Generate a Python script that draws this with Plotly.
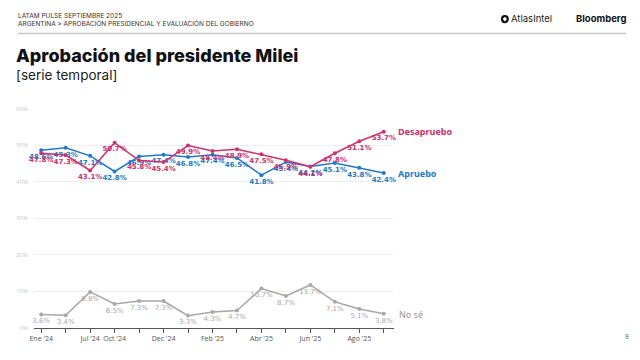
import plotly.graph_objects as go

categories = ["Ene '24", "Mar '24", "Jul '24", "Oct '24", "Nov '24", "Dec '24", "Ene '25",
              "Feb '25", "Mar '25", "Abr '25", "May '25", "Jun '25", "Jul '25", "Ago '25", "Sep '25"]
tick_labels = ["Ene '24", "", "Jul '24", "Oct '24", "", "Dec '24", "", "Feb '25", "",
               "Abr '25", "", "Jun '25", "", "Ago '25", ""]
apruebo = [48.6, 49.3, 47.1, 42.8, 46.9, 47.4, 46.8, 47.4, 46.5, 41.8, 45.4, 44.2, 45.1, 43.8, 42.4]
desapruebo = [47.8, 47.3, 43.1, 50.7, 45.8, 45.4, 49.9, 48.4, 48.9, 47.5, 45.9, 44.1, 47.8, 51.1, 53.7]
no_se = [3.6, 3.4, 9.8, 6.5, 7.3, 7.3, 3.3, 4.3, 4.7, 10.7, 8.7, 11.7, 7.1, 5.1, 3.8]
y_ticks = [0, 10, 20, 30, 40, 50, 60]

BLUE = "#2279cc"
RED = "#d0306a"
GRAY = "#a8a8a8"
OFF = 8  # page body margin
W, H = 640 - OFF, 360 - OFF

def px(x):
    return (x - OFF) / W

def py(y):
    return 1 - (y - OFF) / H

fig = go.Figure()

def add_series(vals, color, bold=True):
    fig.add_trace(go.Scatter(
        x=categories, y=vals, mode="lines+markers+text",
        line=dict(color=color, width=1.5),
        marker=dict(color=color, size=4),
        text=[f"{v:.1f}%" for v in vals],
        textposition="bottom center",
        textfont=dict(family="DejaVu Sans", size=7, color=color,
                      weight="bold" if bold else "normal"),
        cliponaxis=False, showlegend=False, hoverinfo="skip"))

add_series(apruebo, BLUE)
add_series(desapruebo, RED)
add_series(no_se, GRAY, bold=False)

fig.update_layout(
    width=W, height=H, margin=dict(l=0, r=0, t=0, b=0),
    paper_bgcolor="white", plot_bgcolor="white",
    xaxis=dict(domain=[px(30), px(392)], type="category", range=[-0.3, 14.4],
               tickmode="array", tickvals=categories, ticktext=tick_labels,
               showgrid=False, showline=True, linecolor="#555", linewidth=1,
               ticks="outside", ticklen=4, tickcolor="#555",
               tickfont=dict(family="Open Sans", size=7, color="#555"), zeroline=False),
    yaxis=dict(domain=[py(331), py(107)], range=[0, 60], tickmode="array",
               tickvals=y_ticks, ticktext=[f"{t}%" for t in y_ticks],
               showgrid=True, gridcolor="#eeeeee", gridwidth=1, zeroline=False,
               ticklabelstandoff=5,
               tickfont=dict(family="Open Sans", size=6, color="#c8c8c8"), ticks=""),
)

ann = []
def text(x, y, s, size, color, family="Open Sans", weight="normal", xanchor="left"):
    ann.append(dict(xref="paper", yref="paper", x=px(x), y=py(y), text=s, showarrow=False,
                    xanchor=xanchor, yanchor="middle",
                    font=dict(family=family, size=size, color=color, weight=weight)))

text(12, 12, "LATAM PULSE SEPTIEMBRE 2025", 6.5, "#333", family="Inter")
text(12, 20, "ARGENTINA &gt; APROBACIÓN PRESIDENCIAL Y EVALUACIÓN DEL GOBIERNO", 6.5, "#333", family="Inter")
text(10, 52, "Aprobación del presidente Milei", 18, "#111", family="Inter", weight=800)
text(10, 72, "[serie temporal]", 13.5, "#222", family="Inter")
text(508, 15, "AtlasIntel", 9.5, "#222", family="Inter")
text(574, 15, "Bloomberg", 9.5, "#111", family="Inter", weight="bold")
text(394, 130, "Desapruebo", 9, RED, family="Noto Sans", weight="bold")
text(394, 173, "Apruebo", 9, BLUE, family="Noto Sans", weight="bold")
text(395, 318, "No sé", 9, "#999", family="Noto Sans")
text(623, 340, "9", 6, "#666", family="Inter")
fig.update_layout(annotations=ann)

fig.add_shape(type="line", xref="paper", yref="paper", x0=px(14), x1=px(626),
              y0=py(30), y1=py(30), line=dict(color="#c8c8c8", width=1.5))
# Atlas logo mark
fig.add_shape(type="circle", xref="paper", yref="paper", x0=px(500), x1=px(508),
              y0=py(19.5), y1=py(11), fillcolor="#111", line=dict(width=0))
fig.add_shape(type="path", xref="paper", yref="paper",
              path=f"M {px(504)} {py(12.8)} L {px(506.2)} {py(15.2)} L {px(504)} {py(17.6)} L {px(501.8)} {py(15.2)} Z",
              fillcolor="white", line=dict(width=0))

fig.write_html("out.html")
